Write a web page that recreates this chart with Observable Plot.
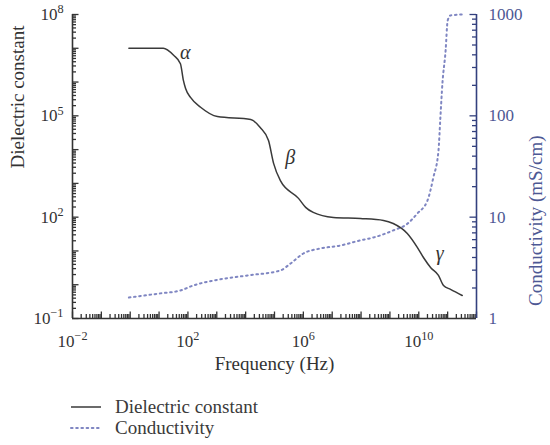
<!DOCTYPE html>
<html><head><meta charset="utf-8">
<script src="https://cdn.jsdelivr.net/npm/d3@7"></script>
<script src="https://cdn.jsdelivr.net/npm/@observablehq/plot@0.6"></script>
<style>
body{margin:0;background:#fff;}
#wrap{position:relative;width:550px;height:445px;}
#legend{position:absolute;left:70px;top:396px;font-family:"Liberation Serif",serif;font-size:19px;color:#3a3a3a;}
.row{display:flex;align-items:center;height:21px;}
.row svg{margin-right:13px;}
</style></head><body><div id="wrap"><div id="chart"></div><div id="legend"></div></div>
<script>
// Dielectric constant (solid)
const freq = [0.9, 14, 32, 55, 70, 83, 123, 275, 1050, 1.5e4, 3.2e4, 6.2e4, 9.3e4, 1.6e5, 6.8e5, 1.2e6, 2.2e6, 1.1e7, 9.5e7, 6e8, 1.3e9, 4e9, 9e9, 1.45e10, 2.6e10, 4.8e10, 7.2e10, 1.26e11, 3.2e11];
const dielectric = [1e7, 1e7, 6.2e6, 3.5e6, 1.1e6, 6.4e5, 3.5e5, 1.8e5, 9.5e4, 7.8e4, 4.5e4, 1.85e4, 3.9e3, 1.2e3, 360, 195, 138, 98, 91, 80, 65, 33, 12.6, 6.4, 3.2, 1.9, 0.95, 0.73, 0.48];
// Conductivity (dotted, mS/cm)
const condFreq = [0.9, 11, 55, 155, 780, 1.15e4, 1.6e5, 3.6e5, 1e6, 3.9e6, 1.9e7, 9.5e7, 2.7e8, 1.3e9, 4e9, 9e9, 2e10, 3.2e10, 4.8e10, 5.6e10, 6.6e10, 8.5e10, 1e11, 1.26e11, 3.2e11];
const conductivity = [1.61, 1.77, 1.89, 2.12, 2.37, 2.66, 2.98, 3.49, 4.38, 4.91, 5.25, 5.9, 6.3, 7.4, 8.6, 10.9, 14.6, 24.7, 45, 96, 210, 440, 870, 980, 1000];
// Relaxation labels
const greekLabels = ["α", "β", "γ"];
const greekFreq = [80, 3.5e5, 5.3e10];
const greekValue = [7.5e6, 5.9e3, 8.4];
// Tick labels
const xTickValues = [1e-2, 1e2, 1e6, 1e10];
const xTickLabels = ["10^−2", "10^2", "10^6", "10^10"];
const yTickValues = [1e-1, 1e2, 1e5, 1e8];
const yTickLabels = ["10^−1", "10^2", "10^5", "10^8"];
const condTickValues = [1, 10, 100, 1000];
const condTickLabels = ["1", "10", "100", "1000"];
const xTitle = "Frequency (Hz)";
const yTitle = "Dielectric constant";
const y2Title = "Conductivity (mS/cm)";
const seriesNames = ["Dielectric constant", "Conductivity"];

const xDomain = [1e-2, 1e12], yDomain = [1e-1, 1e8], condDomain = [1, 1000];
// map conductivity onto the left log scale (3 decades -> 9 decades)
const toY = s => 10 ** (Math.log10(yDomain[0]) + (Math.log10(s) - Math.log10(condDomain[0])) * 3);

const decadeTicks = (lo, hi) => d3.range(lo, hi + 1).map(e => 10 ** e);
const minorTicks = (lo, hi) => d3.range(lo, hi).flatMap(e => d3.range(2, 10).map(m => m * 10 ** e));

const xMajor = decadeTicks(-2, 12), xMinor = minorTicks(-2, 12);
const yMajor = decadeTicks(-1, 8), yMinor = minorTicks(-1, 8);
const cMajor = decadeTicks(0, 3).map(toY), cMinor = minorTicks(0, 3).map(toY);

const dielData = freq.map((f, i) => ({f, v: dielectric[i]}));
const condData = condFreq.map((f, i) => ({f, v: toY(conductivity[i])}));
const greekData = greekLabels.map((t, i) => ({t, f: greekFreq[i], v: greekValue[i]}));

const ink = "#333333", navy = "#33407e", blueText = "#4d5894", dotted = "#7f86c2";
const font = "Liberation Serif, serif";
const W = 550, H = 385, ML = 72, MR = 74, MT = 14, MB = 67;
const FW = W - ML - MR, FH = H - MT - MB;
const MAJ = 6.5, MIN = 4;

// inward ticks drawn as frame-spanning ticks trimmed by insets
const inX = (data, len) => Plot.tickX(data, {x: d => d, insetTop: FH - len, stroke: ink, strokeWidth: 1.3});
const inY = (data, len) => Plot.tickY(data, {y: d => d, insetRight: FW - len, stroke: ink, strokeWidth: 1.3});
const inY2 = (data, len) => Plot.tickY(data, {y: d => d, insetLeft: FW - len, stroke: navy, strokeWidth: 1.3});

const chart = Plot.plot({
  width: W, height: H,
  marginLeft: ML, marginRight: MR, marginTop: MT, marginBottom: MB,
  style: {fontFamily: font, background: "#fff"},
  x: {type: "log", domain: xDomain},
  y: {type: "log", domain: yDomain},
  marks: [
    inX(xMinor, MIN), inX(xMajor, MAJ),
    inY(yMinor, MIN), inY(yMajor, MAJ),
    inY2(cMinor, MIN), inY2(cMajor, MAJ),
    // tick labels
    Plot.axisX(xTickValues, {tickSize: 0, tickPadding: 16, fontSize: 17, fill: ink, label: null,
      tickFormat: d => xTickLabels[xTickValues.indexOf(d)]}),
    Plot.axisY(yTickValues, {tickSize: 0, tickPadding: 9, fontSize: 17, fill: ink, label: null,
      tickFormat: d => yTickLabels[yTickValues.indexOf(d)]}),
    Plot.axisY(condTickValues.map(toY), {anchor: "right", tickSize: 0, tickPadding: 12, fontSize: 17, fill: blueText, label: null,
      tickFormat: d => condTickLabels[condTickValues.map(toY).indexOf(d)]}),
    // axis lines
    Plot.ruleX([xDomain[0]], {stroke: ink, strokeWidth: 1.6}),
    Plot.ruleY([yDomain[0]], {stroke: ink, strokeWidth: 1.6}),
    Plot.ruleX([xDomain[1]], {stroke: navy, strokeWidth: 1.6}),
    // titles
    Plot.text([xTitle], {frameAnchor: "bottom", dy: 45, text: d => d, fontSize: 19, fill: ink, lineAnchor: "middle"}),
    Plot.text([yTitle], {frameAnchor: "left", dx: -55, dy: 2, rotate: -90, text: d => d, fontSize: 19, fill: ink}),
    Plot.text([y2Title], {frameAnchor: "right", dx: 59, dy: -31, rotate: -90, text: d => d, fontSize: 19, fill: blueText}),
    // data
    Plot.line(condData, {x: "f", y: "v", curve: "monotone-x", stroke: dotted, strokeWidth: 2, strokeDasharray: "1.6 3.6", strokeLinecap: "round"}),
    Plot.line(dielData, {x: "f", y: "v", curve: "monotone-x", stroke: "#3a3a3a", strokeWidth: 1.5}),
    Plot.text(greekData, {x: "f", y: "v", text: "t", fontSize: 20, fontStyle: "italic", fill: ink})
  ]
});

// superscripts for powers of ten
chart.querySelectorAll("text").forEach(t => {
  const m = t.textContent.match(/^10\^(.+)$/);
  if (!m) return;
  t.textContent = "10";
  const ts = document.createElementNS("http://www.w3.org/2000/svg", "tspan");
  ts.setAttribute("dy", "-0.55em");
  ts.setAttribute("font-size", "0.72em");
  ts.textContent = m[1];
  t.appendChild(ts);
});
document.getElementById("chart").appendChild(chart);

// legend
const legend = document.getElementById("legend");
const styles = [{dash: null, color: "#3a3a3a", w: 1.5}, {dash: "1.6 3.6", color: dotted, w: 2}];
seriesNames.forEach((name, i) => {
  const row = document.createElement("div");
  row.className = "row";
  const s = styles[i];
  row.innerHTML = `<svg width="32" height="6"><line x1="1" y1="3" x2="31" y2="3" stroke="${s.color}" stroke-width="${s.w}" ${s.dash ? `stroke-dasharray="${s.dash}" stroke-linecap="round"` : ""}/></svg><span>${name}</span>`;
  legend.appendChild(row);
});
</script>
</body></html>
